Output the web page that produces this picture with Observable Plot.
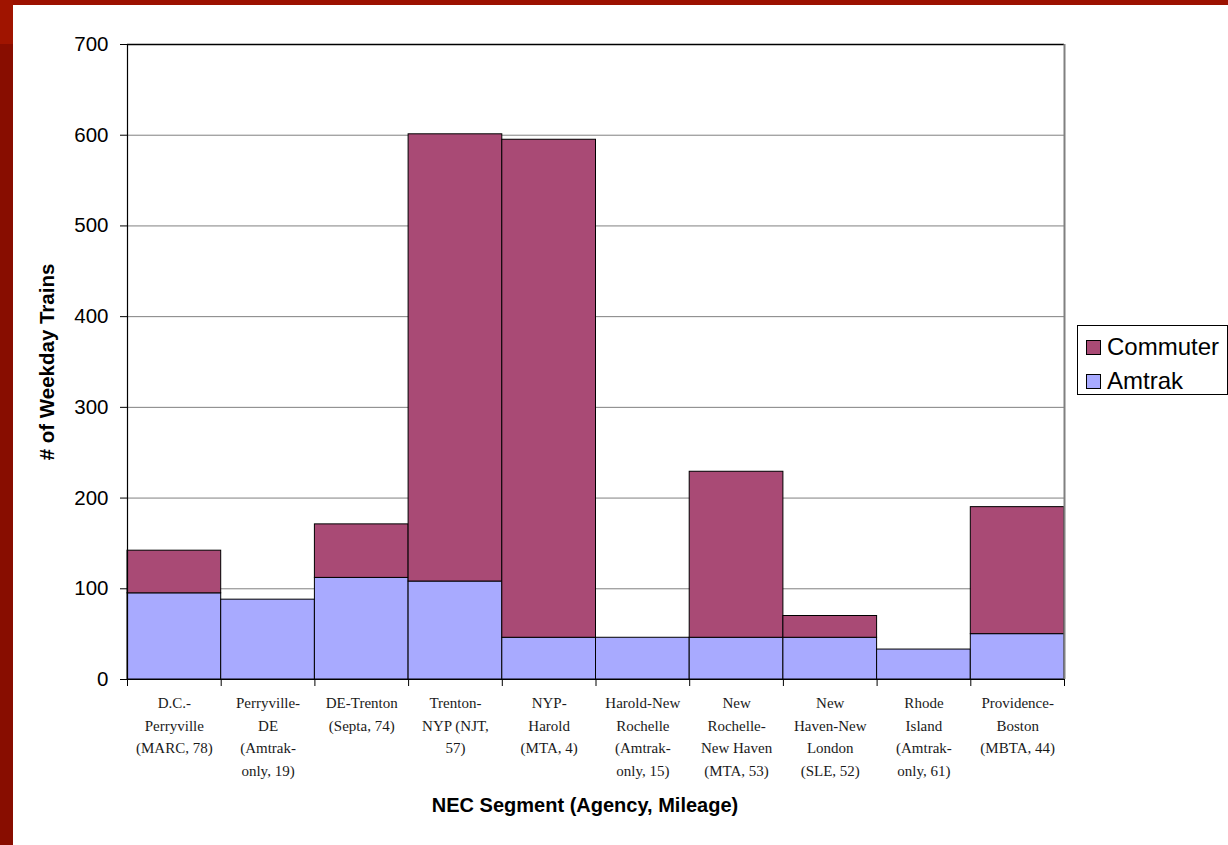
<!DOCTYPE html>
<html>
<head>
<meta charset="utf-8">
<script src="https://cdn.jsdelivr.net/npm/d3@7"></script>
<script src="https://cdn.jsdelivr.net/npm/@observablehq/plot@0.6"></script>
<style>
  html, body { margin: 0; padding: 0; background: #fff; }
  #wrap { position: relative; width: 1228px; height: 845px; overflow: hidden; background: #fff; }
  .bar-top { position: absolute; left: 0; top: 0; width: 1228px; height: 5px; background: #9c1100; }
  .bar-left-a { position: absolute; left: 0; top: 0; width: 13px; height: 44px; background: #a01400; }
  .bar-left-b { position: absolute; left: 0; top: 44px; width: 13px; height: 801px; background: #880d00; }
  #legend { position: absolute; left: 1077px; top: 325px; width: 151px; height: 70px; box-sizing: border-box;
    border: 1px solid #000; background: #fff; font-family: Arial, "Liberation Sans", sans-serif; font-size: 24px; color: #000; }
  #legend .row { position: absolute; left: 8px; display: flex; align-items: center; line-height: 28px; }
  #legend .sw { width: 13px; height: 13px; border: 1px solid #000; margin-right: 6px; }
</style>
</head>
<body>
<div id="wrap">
  <div id="chart"></div>
  <div class="bar-top"></div>
  <div class="bar-left-a"></div>
  <div class="bar-left-b"></div>
  <div id="legend"></div>
</div>
<script>
const categories = [
  "D.C.-\nPerryville\n(MARC, 78)",
  "Perryville-\nDE\n(Amtrak-\nonly, 19)",
  "DE-Trenton\n(Septa, 74)",
  "Trenton-\nNYP (NJT,\n57)",
  "NYP-\nHarold\n(MTA, 4)",
  "Harold-New\nRochelle\n(Amtrak-\nonly, 15)",
  "New\nRochelle-\nNew Haven\n(MTA, 53)",
  "New\nHaven-New\nLondon\n(SLE, 52)",
  "Rhode\nIsland\n(Amtrak-\nonly, 61)",
  "Providence-\nBoston\n(MBTA, 44)"
];
const amtrak   = [95, 88, 112, 108, 46, 46, 46, 46, 33, 50];
const commuter = [47, 0, 59, 493, 549, 0, 183, 24, 0, 140];
const seriesNames = ["Commuter", "Amtrak"];
const seriesColors = ["#a94a75", "#a8aaff"];
const yTicks = [0, 100, 200, 300, 400, 500, 600, 700];

const rows = [];
categories.forEach((c, i) => {
  rows.push({i, series: "Amtrak", y1: 0, y2: amtrak[i]});
  if (commuter[i] > 0) rows.push({i, series: "Commuter", y1: amtrak[i], y2: amtrak[i] + commuter[i]});
});
const idx = categories.map((c, i) => i);
const bounds = d3.range(categories.length + 1);

const chart = Plot.plot({
  width: 1228,
  height: 845,
  marginLeft: 127,
  marginRight: 164,
  marginTop: 44,
  marginBottom: 166,
  style: { background: "transparent", fontFamily: "Arial, 'Liberation Sans', sans-serif", color: "#000", overflow: "visible" },
  x: { domain: [0, categories.length], axis: null },
  y: { domain: [0, 700], axis: null },
  color: { domain: seriesNames, range: seriesColors },
  marks: [
    Plot.ruleY(yTicks.filter(d => d > 0 && d < 700), { y: d => d, stroke: "#808080", strokeWidth: 1, x1: 0, x2: categories.length }),
    Plot.ruleY([700], { stroke: "#000", strokeWidth: 1.5 }),
    Plot.rect(rows, { x1: d => d.i, x2: d => d.i + 1, y1: "y1", y2: "y2", fill: "series", stroke: "#000", strokeWidth: 1 }),
    Plot.ruleX([categories.length], { stroke: "#808080", strokeWidth: 2 }),
    Plot.ruleX([0], { stroke: "#000", strokeWidth: 1.2 }),
    Plot.ruleY([0], { stroke: "#000", strokeWidth: 1.2 }),
    Plot.tickY(yTicks, { y: d => d, stroke: "#000", insetLeft: -7, insetRight: 937 }),
    Plot.text(yTicks, { y: d => d, text: d => String(d), frameAnchor: "left", textAnchor: "end", dx: -19, fontSize: 20.5, fill: "#000" }),
    Plot.tickX(bounds, { x: d => d, stroke: "#000", insetTop: 635, insetBottom: -7 }),
    Plot.text(idx, { x: d => d + 0.5, text: d => categories[d], frameAnchor: "bottom", lineAnchor: "top", dy: 13,
      fontFamily: "'Liberation Serif', 'DejaVu Serif', serif", fontSize: 15, lineHeight: 1.5, fill: "#1a1a1a", letterSpacing: "-0.5px" }),
    Plot.text(["NEC Segment (Agency, Mileage)"], { frameAnchor: "bottom", textAnchor: "middle", dy: 132, dx: -11, fontWeight: "bold", fontSize: 20, fill: "#000" }),
    Plot.text(["# of Weekday Trains"], { frameAnchor: "left", textAnchor: "middle", dx: -80, rotate: -90, fontWeight: "bold", fontSize: 20.5, letterSpacing: "1px", fill: "#000" })
  ]
});
document.getElementById("chart").appendChild(chart);

const legend = document.getElementById("legend");
seriesNames.forEach((name, k) => {
  const row = document.createElement("div");
  row.className = "row";
  row.style.top = (k === 0 ? 7 : 41) + "px";
  const sw = document.createElement("div");
  sw.className = "sw";
  sw.style.background = seriesColors[k];
  const t = document.createElement("span");
  t.textContent = name;
  row.appendChild(sw); row.appendChild(t);
  legend.appendChild(row);
});
</script>
</body>
</html>
